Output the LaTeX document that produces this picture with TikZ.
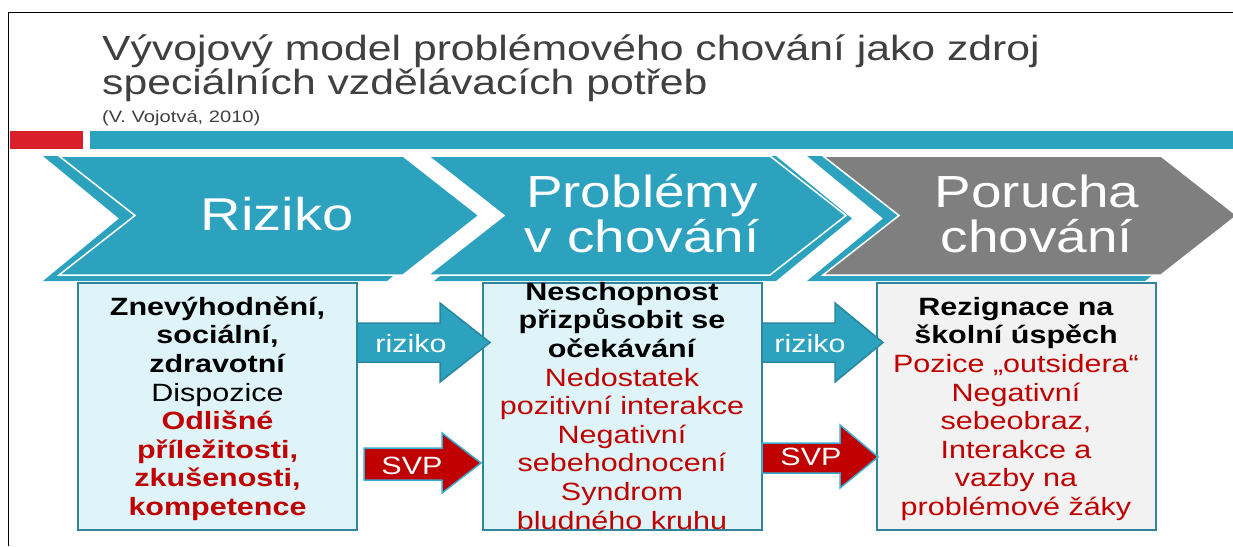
\documentclass[tikz,border=0pt]{standalone}
\usepackage{fontspec}
\setmainfont{Liberation Sans}[FakeStretch=1.22]
\setlength{\lineskiplimit}{-50pt}
\definecolor{tealmain}{HTML}{2DA2BF}
\definecolor{tealdark}{HTML}{2B87A0}
\definecolor{tealline}{HTML}{31859B}
\definecolor{tealglow}{HTML}{3AAED0}
\definecolor{boxcyan}{HTML}{DEF4F9}
\definecolor{boxgray}{HTML}{F2F2F2}
\definecolor{chevgray}{HTML}{7F7F7F}
\definecolor{titlegray}{HTML}{404040}
\definecolor{barred}{HTML}{D9202A}
\definecolor{redtext}{HTML}{C00000}
\begin{document}
\begin{tikzpicture}[x=1pt, y=-1pt,
    chevmain/.style={draw=white, line width=1.5pt, line join=miter},
    chevtext/.style={text=white, inner sep=0pt, align=center, font=\fontsize{45}{45}\selectfont},
    infobox/.style={draw=tealline, line width=2pt, minimum width=279pt, minimum height=247pt, inner sep=0pt},
    boxtext/.style={anchor=north, inner sep=0pt, align=center, font=\fontsize{25}{28.6}\selectfont},
    arrowtext/.style={anchor=base, inner sep=0pt, text=white, font=\fontsize{25}{28}\selectfont},
    rizikoarrow/.style={fill=tealmain, draw=tealdark, line width=1.5pt},
    svparrow/.style={fill=redtext, draw=tealglow, line width=1.5pt}]
\useasboundingbox (0,0) rectangle (1233,546);
\fill[white] (0,0) rectangle (1233,546);
% slide frame
\draw[line width=1.5pt] (8.5,546) -- (8.5,12.5) -- (1233,12.5);
% title
\node[anchor=north west, inner sep=0pt, align=left, text=titlegray, font=\fontsize{35}{34}\selectfont] (title) at (102,30) {\rule{0pt}{30pt}Vývojový model problémového chování jako zdroj\\speciálních vzdělávacích potřeb};
\node[anchor=base west, inner sep=0pt, text=titlegray, font=\fontsize{16.5}{18}\selectfont] (source) at (102,122) {(V. Vojotvá, 2010)};
% bars
\fill[barred] (10,131) rectangle (83,149);
\fill[tealmain] (90,131) rectangle (1233,149);
% chevrons
\fill[tealmain] (43,156) -- (387,156) -- (463,218.5) -- (387,281) -- (43,281) -- (119,218.5) -- cycle;
\filldraw[chevmain, fill=tealmain] (59,156) -- (403,156) -- (479,215.5) -- (403,275) -- (59,275) -- (135,215.5) -- cycle;
\fill[tealmain] (434,156) -- (776,156) -- (852,218.5) -- (776,281) -- (434,281) -- (510,218.5) -- cycle;
\filldraw[chevmain, fill=tealmain] (428,156) -- (770,156) -- (846,215.5) -- (770,275) -- (428,275) -- (504,215.5) -- cycle;
\fill[tealmain] (807,156) -- (1145,156) -- (1221,218.5) -- (1145,281) -- (807,281) -- (883,218.5) -- cycle;
\filldraw[chevmain, fill=chevgray] (823,156) -- (1161,156) -- (1237,215.5) -- (1161,275) -- (823,275) -- (899,215.5) -- cycle;
\node[chevtext, anchor=base, font=\fontsize{46}{46}\selectfont] (rizikolabel) at (277,230) {Riziko};
\node[chevtext, anchor=north] (problemylabel) at (642,171) {\rule{0pt}{36pt}Problémy\\v chování};
\node[chevtext, anchor=north] (poruchalabel) at (1037,171) {\rule{0pt}{36pt}Porucha\\chování};
% boxes
\node[infobox, fill=boxcyan] (rizikobox) at (217.5,406.5) {};
\node[infobox, fill=boxcyan] (problemybox) at (622,406.5) {};
\node[infobox, fill=boxgray] (poruchabox) at (1016,406.5) {};
\node[boxtext] (rizikotext) at (217.5,293) {\rule{0pt}{22pt}\textbf{Znevýhodnění,}\\\textbf{sociální,}\\\textbf{zdravotní}\\Dispozice\\\textcolor{redtext}{\textbf{Odlišné}}\\\textcolor{redtext}{\textbf{příležitosti,}}\\\textcolor{redtext}{\textbf{zkušenosti,}}\\\textcolor{redtext}{\textbf{kompetence}}};
\node[boxtext] (problemytext) at (622,278) {\rule{0pt}{22pt}\textbf{Neschopnost}\\\textbf{přizpůsobit se}\\\textbf{očekávání}\\\textcolor{redtext}{Nedostatek}\\\textcolor{redtext}{pozitivní interakce}\\\textcolor{redtext}{Negativní}\\\textcolor{redtext}{sebehodnocení}\\\textcolor{redtext}{Syndrom}\\\textcolor{redtext}{bludného kruhu}};
\node[boxtext] (poruchatext) at (1016,293) {\rule{0pt}{22pt}\textbf{Rezignace na}\\\textbf{školní úspěch}\\\textcolor{redtext}{Pozice „outsidera“}\\\textcolor{redtext}{Negativní}\\\textcolor{redtext}{sebeobraz,}\\\textcolor{redtext}{Interakce a}\\\textcolor{redtext}{vazby na}\\\textcolor{redtext}{problémové žáky}};
% block arrows
\filldraw[rizikoarrow] (357,323) -- (440,323) -- (440,303) -- (490,342.5) -- (440,382) -- (440,362) -- (357,362) -- cycle;
\node[arrowtext] (riziko1) at (411,352) {riziko};
\filldraw[svparrow] (364,448) -- (442,448) -- (442,433) -- (481,463) -- (442,493) -- (442,480) -- (364,480) -- cycle;
\node[arrowtext] (svp1) at (412,474) {SVP};
\filldraw[rizikoarrow] (762,323) -- (835,323) -- (835,303) -- (883,342.5) -- (835,382) -- (835,362) -- (762,362) -- cycle;
\node[arrowtext] (riziko2) at (810,352) {riziko};
\filldraw[svparrow] (762,443) -- (840,443) -- (840,425) -- (878,457) -- (840,488) -- (840,473) -- (762,473) -- cycle;
\node[arrowtext] (svp2) at (811,465) {SVP};
\end{tikzpicture}
\end{document}
